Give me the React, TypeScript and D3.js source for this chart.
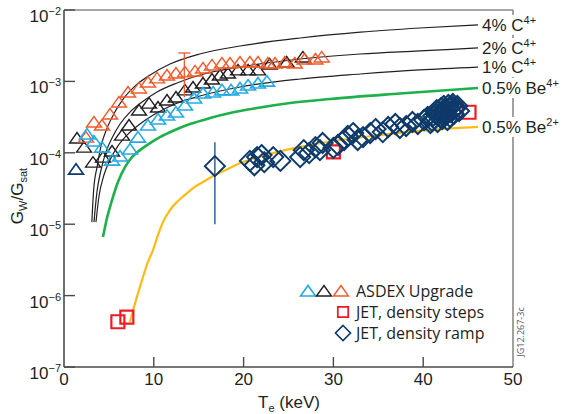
import React, { useEffect } from "react";
import * as d3 from "d3";

// ---- Model curves: electron temperature (keV) vs G_W/G_sat ----
const T_C4 = [3.1, 3.3, 3.7, 4.1, 4.8, 5.6, 6.6, 7.9, 9.6, 11.8, 15.1, 19.6, 26.3, 33.0, 39.6, 46.1];
const G_C4 = [1.07e-5, 3.0e-5, 6.5e-5, 1.21e-4, 2.22e-4, 3.6e-4, 5.7e-4, 8.6e-4, 1.23e-3, 1.75e-3, 2.42e-3, 3.13e-3, 4.05e-3, 4.9e-3, 5.6e-3, 6.2e-3];

const T_C2 = [3.34, 3.67, 4.12, 4.68, 5.35, 6.24, 7.35, 8.69, 10.36, 12.58, 15.14, 19.6, 26.3, 33.0, 39.6, 46.1];
const G_C2 = [1.07e-5, 2.83e-5, 5.74e-5, 1.03e-4, 1.61e-4, 2.53e-4, 3.72e-4, 5.14e-4, 7.1e-4, 9.5e-4, 1.23e-3, 1.59e-3, 2.06e-3, 2.42e-3, 2.67e-3, 2.94e-3];

const T_C1 = [3.56, 3.9, 4.45, 5.12, 6.01, 7.13, 8.46, 10.13, 12.36, 15.14, 19.6, 26.3, 33.0, 39.6, 46.1];
const G_C1 = [1.07e-5, 2.48e-5, 4.89e-5, 7.9e-5, 1.25e-4, 1.83e-4, 2.53e-4, 3.49e-4, 4.82e-4, 6.25e-4, 8.35e-4, 1.08e-3, 1.27e-3, 1.45e-3, 1.59e-3];

const T_BE4 = [4.34, 4.79, 5.35, 6.01, 6.79, 7.57, 8.46, 9.58, 10.69, 12.36, 14.03, 16.26, 18.49, 21.49, 25.17, 29.62, 37.42, 46.1];
const G_BE4 = [6.6e-6, 1.22e-5, 2.18e-5, 3.9e-5, 6.3e-5, 8.7e-5, 1.09e-4, 1.37e-4, 1.66e-4, 2.09e-4, 2.53e-4, 3.07e-4, 3.61e-4, 4.24e-4, 4.98e-4, 5.67e-4, 6.77e-4, 8.09e-4];

const T_BE2 = [7.35, 8.02, 8.69, 9.35, 9.91, 10.47, 11.02, 11.8, 12.58, 13.47, 14.37, 15.48, 16.82, 18.26, 19.6, 21.27, 23.27, 26.28, 30.73, 35.19, 40.76, 46.1];
const G_BE2 = [4.27e-7, 8.7e-7, 1.65e-6, 2.96e-6, 4.35e-6, 7.06e-6, 1.07e-5, 1.58e-5, 2.05e-5, 2.57e-5, 3.21e-5, 3.9e-5, 4.89e-5, 5.93e-5, 7.2e-5, 8.45e-5, 9.9e-5, 1.21e-4, 1.51e-4, 1.77e-4, 2.09e-4, 2.3e-4];

// ---- ASDEX Upgrade measurements ----
const T_AUG_ORANGE = [2.45, 3.34, 4.23, 5.12, 6.12, 7.13, 8.35, 9.35, 10.36, 11.47, 12.47, 13.47, 14.59, 15.48, 16.48, 17.59, 18.49, 19.6, 20.7, 21.6, 22.7, 23.5, 24.6, 25.7, 26.8, 28.0, 28.7];
const G_AUG_ORANGE = [1.66e-4, 2.7e-4, 2.45e-4, 3.49e-4, 5.14e-4, 7.1e-4, 8.1e-4, 9.8e-4, 1.12e-3, 1.23e-3, 1.31e-3, 1.36e-3, 1.4e-3, 1.54e-3, 1.7e-3, 1.81e-3, 1.81e-3, 1.87e-3, 1.87e-3, 1.87e-3, 1.81e-3, 1.81e-3, 1.87e-3, 1.81e-3, 2.06e-3, 2.06e-3, 2.2e-3];

const T_AUG_BLACK = [1.45, 2.23, 3.23, 4.34, 5.35, 6.46, 7.24, 8.35, 9.47, 10.47, 11.47, 12.47, 13.47, 14.37, 15.48, 16.48, 17.37, 18.26, 19.38, 20.5, 21.6, 22.9, 24.8, 26.6];
const G_AUG_BLACK = [1.61e-4, 1.2e-4, 7.4e-5, 8.7e-5, 1.06e-4, 1.77e-4, 2.45e-4, 3.97e-4, 4.97e-4, 4.38e-4, 5.48e-4, 6.05e-4, 7.6e-4, 8.35e-4, 9.5e-4, 1.08e-3, 1.23e-3, 1.31e-3, 1.45e-3, 1.45e-3, 1.45e-3, 1.75e-3, 1.87e-3, 2.2e-3];

const T_AUG_CYAN = [2.56, 3.34, 4.23, 5.35, 6.24, 7.35, 8.24, 9.35, 10.47, 11.47, 12.47, 13.47, 14.48, 15.48, 16.6, 17.6, 18.6, 19.6, 20.5, 21.6, 22.6];
const G_AUG_CYAN = [1.83e-4, 1.46e-4, 1.2e-4, 7.9e-5, 9.0e-5, 1.13e-4, 1.66e-4, 2.45e-4, 2.97e-4, 3.38e-4, 3.72e-4, 4.67e-4, 5.86e-4, 6.88e-4, 7.1e-4, 7.6e-4, 7.6e-4, 8.1e-4, 8.9e-4, 9.5e-4, 1.01e-3];

const T_AUG_NAVY = [1.34];
const G_AUG_NAVY = [5.9e-5];

// error bar on one ASDEX point
const AUG_ERR_T = 13.4;
const AUG_ERR_LO = 6.0e-4;
const AUG_ERR_HI = 2.5e-3;

// ---- JET density steps ----
const T_JET_STEPS = [6.0, 7.0, 30.0, 45.1];
const G_JET_STEPS = [4.3e-7, 5.0e-7, 1.03e-4, 3.7e-4];

// ---- JET density ramp ----
const T_JET_RAMP = [16.8, 20.7, 21.2, 21.5, 22.0, 22.3, 23.3, 24.1, 26.3, 26.7, 27.3, 28.0, 28.5, 28.8, 30.0, 30.5, 31.2, 31.6, 32.2, 32.7, 33.3, 34.1, 34.7, 35.5, 36.1, 36.9, 37.4, 38.1, 38.8, 39.4, 40.1, 40.5, 41.0, 41.4, 41.9, 42.2, 42.5, 42.9, 43.1, 43.3, 43.5, 43.8, 44.0, 42.7, 41.6, 41.1, 41.5, 42.0, 42.3, 42.8, 43.2, 43.0, 43.4, 42.1, 40.8, 42.5, 41.9];
const G_JET_RAMP = [6.5e-5, 7.7e-5, 6.7e-5, 8.7e-5, 9.3e-5, 7.4e-5, 8.7e-5, 7.7e-5, 8.7e-5, 1.09e-4, 9.9e-5, 1.2e-4, 1.09e-4, 1.37e-4, 1.17e-4, 1.29e-4, 1.51e-4, 1.72e-4, 1.89e-4, 1.51e-4, 1.66e-4, 1.89e-4, 2.15e-4, 1.95e-4, 2.3e-4, 2.53e-4, 2.22e-4, 2.37e-4, 2.7e-4, 2.53e-4, 2.88e-4, 3.17e-4, 2.79e-4, 3.49e-4, 3.17e-4, 3.85e-4, 3.38e-4, 4.24e-4, 3.72e-4, 4.82e-4, 4.1e-4, 4.52e-4, 3.85e-4, 2.88e-4, 2.7e-4, 3.27e-4, 3.97e-4, 4.24e-4, 4.52e-4, 4.67e-4, 4.52e-4, 3.17e-4, 3.49e-4, 2.97e-4, 2.61e-4, 3.97e-4, 3.61e-4];

// error bar on the first ramp point
const RAMP_ERR_T = 16.8;
const RAMP_ERR_LO = 1.0e-5;
const RAMP_ERR_HI = 1.4e-4;

// ---- axes ----
const X_TICKS = [0, 10, 20, 30, 40, 50];
const Y_EXPONENTS = [-2, -3, -4, -5, -6, -7];

const CURVE_LABELS = [
  { main: "4% C", sup: "4+", g: 6.2e-3 },
  { main: "2% C", sup: "4+", g: 2.94e-3 },
  { main: "1% C", sup: "4+", g: 1.59e-3 },
  { main: "0.5% Be", sup: "4+", g: 8.09e-4 },
  { main: "0.5% Be", sup: "2+", g: 2.3e-4 },
];

const W = 566;
const H = 414;
const AXIS_FONT = "'Liberation Sans', Arial, Helvetica, sans-serif";
const LEGEND_FONT = "'Open Sans', 'Noto Sans', sans-serif";

const C_ORANGE = "#F15A2B";
const C_BLACK = "#231F20";
const C_CYAN = "#25AAE2";
const C_NAVY = "#0E3A6A";
const C_GREEN = "#1DB04B";
const C_YELLOW = "#FDBB14";
const C_RED = "#EC1C24";

const zip = (t: number[], g: number[]) => t.map((v, i) => [v, g[i]] as [number, number]);

const TRI = "M-7.5,5 L0,-5.5 L7.5,5 Z";
const DIAMOND = "M0,-10 L10,0 L0,10 L-10,0 Z";
const SQUARE = "M-6.5,-6.5 H6.5 V6.5 H-6.5 Z";

export default function App() {
  useEffect(() => {
    document.body.style.margin = "0";
  }, []);

  const x = d3.scaleLinear().domain([0, 50]).range([64, 513]);
  const y = d3.scaleLog().domain([1e-7, 1e-2]).range([367, 10]);

  const line = d3
    .line<[number, number]>()
    .x((d) => x(d[0]))
    .y((d) => y(d[1]))
    .curve(d3.curveMonotoneX);

  const marks = (t: number[], g: number[], path: string, color: string, sw: number, key: string) =>
    zip(t, g).map((d, i) => (
      <path
        key={key + i}
        d={path}
        transform={`translate(${x(d[0])},${y(d[1])})`}
        fill="none"
        stroke={color}
        strokeWidth={sw}
        strokeLinejoin="miter"
      />
    ));

  const [x0, x1] = x.range();
  const [yb, yt] = y.range();

  return (
    <svg width={W} height={H} style={{ position: "absolute", left: 0, top: 0, background: "#fff" }}>
      {/* frame */}
      <line x1={x0} x2={x1} y1={yt} y2={yt} stroke="#8a8a8a" strokeWidth={1.6} />
      <line x1={x1} x2={x1} y1={yt} y2={yb} stroke="#8a8a8a" strokeWidth={1.6} />

      {/* model curves */}
      <path d={line(zip(T_C4, G_C4)) || ""} fill="none" stroke={C_BLACK} strokeWidth={1.2} />
      <path d={line(zip(T_C2, G_C2)) || ""} fill="none" stroke={C_BLACK} strokeWidth={1.2} />
      <path d={line(zip(T_C1, G_C1)) || ""} fill="none" stroke={C_BLACK} strokeWidth={1.2} />
      <path d={line(zip(T_BE4, G_BE4)) || ""} fill="none" stroke={C_GREEN} strokeWidth={2.6} />
      <path d={line(zip(T_BE2, G_BE2)) || ""} fill="none" stroke={C_YELLOW} strokeWidth={2.2} />

      {/* ASDEX Upgrade */}
      {marks(T_AUG_BLACK, G_AUG_BLACK, TRI, C_BLACK, 1.4, "b")}
      {marks(T_AUG_ORANGE, G_AUG_ORANGE, TRI, C_ORANGE, 1.4, "o")}
      {marks(T_AUG_CYAN, G_AUG_CYAN, TRI, C_CYAN, 1.6, "c")}
      {marks(T_AUG_NAVY, G_AUG_NAVY, TRI, C_NAVY, 1.6, "n")}
      <g stroke={C_ORANGE} strokeWidth={1.3}>
        <line x1={x(AUG_ERR_T)} x2={x(AUG_ERR_T)} y1={y(AUG_ERR_LO)} y2={y(AUG_ERR_HI)} />
        <line x1={x(AUG_ERR_T) - 6} x2={x(AUG_ERR_T) + 6} y1={y(AUG_ERR_HI)} y2={y(AUG_ERR_HI)} />
      </g>

      {/* JET */}
      {marks(T_JET_STEPS, G_JET_STEPS, SQUARE, C_RED, 2.2, "s")}
      <line
        x1={x(RAMP_ERR_T)}
        x2={x(RAMP_ERR_T)}
        y1={y(RAMP_ERR_LO)}
        y2={y(RAMP_ERR_HI)}
        stroke="#3D6B9C"
        strokeWidth={1.6}
      />
      {marks(T_JET_RAMP, G_JET_RAMP, DIAMOND, C_NAVY, 2, "r")}

      {/* curve labels */}
      {CURVE_LABELS.map((l, i) => (
        <g key={"cl" + i}>
          <rect x={480} y={y(l.g) - 10} width={80} height={20} fill="#fff" />
          <text x={482} y={y(l.g) + 6} fontFamily={AXIS_FONT} fontSize={17} fill="#231F20">
            <tspan>{l.main}</tspan>
            <tspan fontSize={11} dy={-7}>
              {l.sup}
            </tspan>
          </text>
        </g>
      ))}

      {/* axes */}
      <line x1={x0} x2={x0} y1={yt} y2={yb} stroke="#4a4a4a" strokeWidth={1.6} />
      <line x1={x0} x2={x1} y1={yb} y2={yb} stroke="#4a4a4a" strokeWidth={1.6} />
      {Y_EXPONENTS.map((e) => (
        <g key={"yt" + e}>
          <line x1={x0} x2={x0 + 11} y1={y(Math.pow(10, e))} y2={y(Math.pow(10, e))} stroke="#4a4a4a" strokeWidth={1.4} />
          <text x={61} y={y(Math.pow(10, e)) + 12} textAnchor="end" fontFamily={AXIS_FONT} fontSize={17} fill="#231F20">
            <tspan>10</tspan>
            <tspan fontSize={11} dy={-7}>
              {"\u2212" + Math.abs(e)}
            </tspan>
          </text>
        </g>
      ))}
      {X_TICKS.map((t) => (
        <g key={"xt" + t}>
          {t > 0 && t < 50 && (
            <line x1={x(t)} x2={x(t)} y1={yb} y2={yb - 10} stroke="#4a4a4a" strokeWidth={1.4} />
          )}
          <text x={x(t)} y={yb + 18} textAnchor="middle" fontFamily={AXIS_FONT} fontSize={17} fill="#231F20">
            {t}
          </text>
        </g>
      ))}
      <text x={289} y={408} textAnchor="middle" fontFamily={AXIS_FONT} fontSize={17} fill="#231F20">
        <tspan>T</tspan>
        <tspan fontSize={11} dy={4}>
          e
        </tspan>
        <tspan dy={-4}> (keV)</tspan>
      </text>
      <text
        transform="translate(23,196) rotate(-90)"
        textAnchor="middle"
        fontFamily={AXIS_FONT}
        fontSize={17}
        fill="#231F20"
      >
        <tspan>G</tspan>
        <tspan fontSize={11} dy={4}>
          W
        </tspan>
        <tspan dy={-4}>/G</tspan>
        <tspan fontSize={11} dy={4}>
          sat
        </tspan>
      </text>

      {/* legend */}
      <g>
        <path d={TRI} transform="translate(308,291)" fill="none" stroke={C_CYAN} strokeWidth={1.6} />
        <path d={TRI} transform="translate(324,291)" fill="none" stroke={C_BLACK} strokeWidth={1.4} />
        <path d={TRI} transform="translate(341,291)" fill="none" stroke={C_ORANGE} strokeWidth={1.4} />
        <text x={356} y={297} fontFamily={LEGEND_FONT} fontSize={16} fill="#231F20">
          ASDEX Upgrade
        </text>
        <path d={SQUARE} transform="translate(343,312) scale(0.8)" fill="none" stroke={C_RED} strokeWidth={2.2} />
        <text x={356} y={318} fontFamily={LEGEND_FONT} fontSize={16} fill="#231F20">
          JET, density steps
        </text>
        <path d={DIAMOND} transform="translate(343,333) scale(0.75)" fill="none" stroke={C_NAVY} strokeWidth={2.2} />
        <text x={356} y={339} fontFamily={LEGEND_FONT} fontSize={16} fill="#231F20">
          JET, density ramp
        </text>
      </g>

      {/* figure code */}
      <text
        transform="translate(524,332) rotate(-90)"
        textAnchor="middle"
        fontFamily={LEGEND_FONT}
        fontSize={9}
        fill="#555"
      >
        JG12.267-3c
      </text>
    </svg>
  );
}
